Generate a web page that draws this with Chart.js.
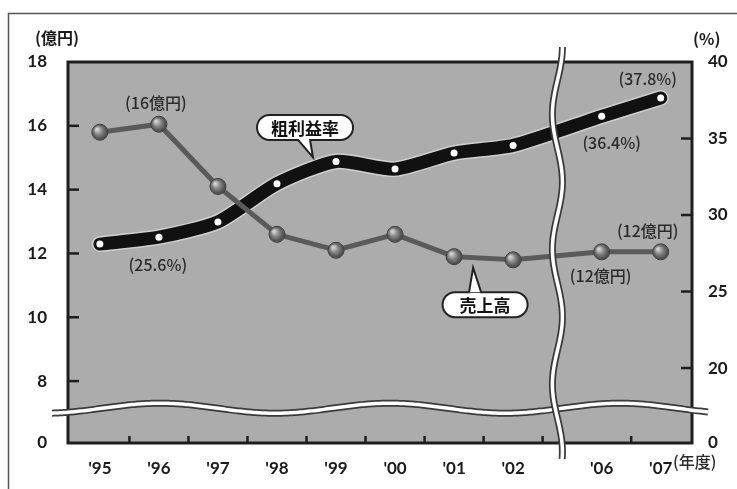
<!DOCTYPE html>
<html lang="ja">
<head>
<meta charset="utf-8">
<script src="https://cdn.jsdelivr.net/npm/chart.js@4"></script>
<style>
  html, body { margin: 0; padding: 0; background: #fff; }
  canvas { display: block; }
</style>
</head>
<body>
<canvas id="chart" width="737" height="489"></canvas>
<script>
// fiscal years on the x axis ('03 - '05 are cut out by the break)
const years = [1995, 1996, 1997, 1998, 1999, 2000, 2001, 2002, 2006, 2007]
const yearLabels = ["'95", "'96", "'97", "'98", "'99", "'00", "'01", "'02", "'06", "'07"]
// 売上高 (億円) - left axis
const sales = [15.8, 16.05, 14.1, 12.6, 12.1, 12.6, 11.9, 11.8, 12.05, 12.05]
// 粗利益率 (%) - right axis
const marginRate = [28.1, 28.55, 29.55, 32.05, 33.5, 33.0, 34.05, 34.55, 36.45, 37.65]
const leftTicks = [0, 8, 10, 12, 14, 16, 18]
const rightTicks = [0, 20, 25, 30, 35, 40]
// value notes written next to some points
const salesNotes = ['', '(16億円)', '', '', '', '', '', '', '(12億円)', '(12億円)']
const marginNotes = ['(25.6%)', '', '', '', '', '', '', '', '(36.4%)', '(37.8%)']

// broken axes: the bottom of each y axis stands for 0
const leftZero = 6.06
const rightZero = 15.1
const gapYears = 2.5
const xOf = y => y > 2002 ? y - 1995 - gapYears : y - 1995

// where the notes sit, in px from their point
const noteOffsets = {
  sales: { 1: [-3, -21], 8: [-1, 24], 9: [-13, -21] },
  margin: { 0: [58, 21], 8: [10, 27], 9: [-13, -19] }
}

const tickFont = { family: 'Lato, "Noto Sans CJK JP", sans-serif', size: 17, weight: 'bold' }

const line = (ctx, x1, y1, x2, y2) => {
  ctx.beginPath()
  ctx.moveTo(x1, y1)
  ctx.lineTo(x2, y2)
  ctx.stroke()
}

const wave = (ctx, pts) => {
  ctx.beginPath()
  pts.forEach((p, i) => i ? ctx.lineTo(p[0], p[1]) : ctx.moveTo(p[0], p[1]))
  ctx.lineCap = 'butt'
  ctx.strokeStyle = '#3a3a3a'
  ctx.lineWidth = 7
  ctx.stroke()
  ctx.strokeStyle = '#fff'
  ctx.lineWidth = 3.5
  ctx.stroke()
}

const callout = (ctx, text, cx, cy, w, h, tipX, tipY, up) => {
  const edge = up ? cy - h / 2 : cy + h / 2
  const baseX = up ? tipX + 1 : tipX - 10
  ctx.fillStyle = '#fff'
  ctx.strokeStyle = '#222'
  ctx.lineWidth = 2
  ctx.beginPath()
  ctx.roundRect(cx - w / 2, cy - h / 2, w, h, h / 2)
  ctx.fill()
  ctx.stroke()
  // tail
  ctx.beginPath()
  ctx.moveTo(baseX - 5, edge)
  ctx.lineTo(tipX, tipY)
  ctx.lineTo(baseX + 7, edge)
  ctx.fill()
  ctx.stroke()
  ctx.fillRect(baseX - 4, edge - (up ? -1 : 2), 10, 2)
  ctx.fillStyle = '#111'
  ctx.font = 'bold 17px "Noto Sans CJK JP", sans-serif'
  ctx.textAlign = 'center'
  ctx.textBaseline = 'middle'
  ctx.fillText(text, cx, cy + 1)
}

const decor = {
  id: 'decor',
  beforeDraw(chart) {
    const { ctx } = chart
    ctx.save()
    ctx.fillStyle = '#fff'
    ctx.fillRect(0, 0, chart.width, chart.height)
    ctx.strokeStyle = '#555'
    ctx.lineWidth = 1.5
    ctx.strokeRect(8.5, 13.5, chart.width + 20, chart.height + 20)
    // unit captions
    ctx.fillStyle = '#1a1a1a'
    ctx.font = 'bold 16px "Noto Sans CJK JP", sans-serif'
    ctx.textBaseline = 'middle'
    ctx.textAlign = 'left'
    ctx.fillText('(億円)', 35, 38)
    ctx.fillText('(%)', 693, 39)
    ctx.restore()
  },
  beforeDatasetsDraw(chart) {
    const { ctx, chartArea: a, scales } = chart
    ctx.save()
    ctx.fillStyle = '#acacac'
    ctx.fillRect(a.left, a.top, a.right - a.left, a.bottom - a.top)
    ctx.strokeStyle = '#1e1e1e'
    ctx.lineWidth = 3
    ctx.strokeRect(a.left, a.top, a.right - a.left, a.bottom - a.top)
    ctx.lineWidth = 2.5
    leftTicks.slice(1, -1).forEach(v => {
      const y = scales.y.getPixelForValue(v)
      line(ctx, a.left, y, a.left + 11, y)
    })
    rightTicks.slice(1, -1).forEach(v => {
      const y = scales.y1.getPixelForValue(v)
      line(ctx, a.right - 11, y, a.right, y)
    })
    years.slice(0, -1).forEach(y => {
      const x = scales.x.getPixelForValue(xOf(y) + 0.5)
      line(ctx, x, a.bottom, x, a.bottom - 7)
    })
    ctx.restore()
  },
  beforeDatasetDraw(chart, args) {
    // light rim round the thick margin line
    if (args.index !== 1) return
    const { ctx } = chart
    ctx.save()
    ctx.beginPath()
    args.meta.dataset.path(ctx)
    ctx.strokeStyle = '#d0d0d0'
    ctx.lineWidth = 16
    ctx.lineJoin = 'round'
    ctx.lineCap = 'round'
    ctx.stroke()
    ctx.restore()
  },
  afterDatasetsDraw(chart) {
    const { ctx, chartArea: a, scales } = chart
    const salesPts = chart.getDatasetMeta(0).data
    const marginPts = chart.getDatasetMeta(1).data
    ctx.save()
    // shaded balls on the sales line
    salesPts.forEach(p => {
      const g = ctx.createRadialGradient(p.x - 3, p.y - 3, 1, p.x, p.y, 8.5)
      g.addColorStop(0, '#d0d0d0')
      g.addColorStop(0.45, '#808080')
      g.addColorStop(1, '#3a3a3a')
      ctx.fillStyle = g
      ctx.beginPath()
      ctx.arc(p.x, p.y, 7.5, 0, Math.PI * 2)
      ctx.fill()
    })

    // break marks
    const yc = scales.y.getPixelForValue(7.15)
    const hpts = []
    for (let x = a.left - 16; x <= a.right + 16; x += 2) {
      hpts.push([x, yc - 5 * Math.cos(2 * Math.PI * (x - 160) / 230)])
    }
    wave(ctx, hpts)
    const xc = scales.x.getPixelForValue(xOf(2002) + 0.75)
    const vpts = []
    for (let y = a.top - 15; y <= a.bottom + 17; y += 2) {
      vpts.push([xc + 5 * Math.sin(2 * Math.PI * (y - 13) / 135), y])
    }
    wave(ctx, vpts)

    // notes
    ctx.fillStyle = '#2a2a2a'
    ctx.font = '500 16px "Noto Sans CJK JP", sans-serif'
    ctx.textAlign = 'center'
    ctx.textBaseline = 'middle'
    salesNotes.forEach((t, i) => {
      if (!t) return
      const [dx, dy] = noteOffsets.sales[i]
      ctx.fillText(t, salesPts[i].x + dx, salesPts[i].y + dy)
    })
    marginNotes.forEach((t, i) => {
      if (!t) return
      const [dx, dy] = noteOffsets.margin[i]
      ctx.fillText(t, marginPts[i].x + dx, marginPts[i].y + dy)
    })
    // year caption
    ctx.textAlign = 'left'
    ctx.fillText('(年度)', a.right - 19, a.bottom + 19)

    // series callouts
    const m = marginPts[4]
    callout(ctx, '粗利益率', m.x - 31, m.y - 34, 96, 25, m.x - 23, m.y - 4, false)
    const s = salesPts[6]
    callout(ctx, '売上高', s.x + 31, s.y + 48, 85, 25, s.x + 19, s.y + 11, true)
    ctx.restore()
  }
}

new Chart(document.getElementById('chart'), {
  type: 'line',
  data: {
    datasets: [{
      label: '売上高',
      data: years.map((y, i) => ({ x: xOf(y), y: sales[i] })),
      yAxisID: 'y',
      borderColor: '#5a5a5a',
      borderWidth: 5,
      tension: 0,
      pointRadius: 8,
      pointBackgroundColor: '#777',
      pointBorderColor: '#3a3a3a',
      pointBorderWidth: 1
    }, {
      label: '粗利益率',
      data: years.map((y, i) => ({ x: xOf(y), y: marginRate[i] })),
      yAxisID: 'y1',
      borderColor: '#111',
      borderWidth: 13,
      borderJoinStyle: 'round',
      borderCapStyle: 'round',
      tension: 0.22,
      pointRadius: 3.5,
      pointBackgroundColor: '#fff',
      pointBorderColor: '#fff',
      pointBorderWidth: 0
    }]
  },
  options: {
    responsive: false,
    animation: false,
    devicePixelRatio: 1,
    layout: { padding: { top: 62, left: 0, right: 0, bottom: 0 } },
    plugins: { legend: { display: false }, tooltip: { enabled: false } },
    scales: {
      x: {
        type: 'linear',
        min: -0.54,
        max: 10.03,
        grid: { display: false },
        border: { display: false },
        afterFit: s => { s.height = 46 },
        afterBuildTicks: s => { s.ticks = years.map(y => ({ value: xOf(y) })) },
        ticks: {
          autoSkip: false,
          maxRotation: 0,
          padding: 7,
          color: '#1a1a1a',
          font: tickFont,
          callback: (v, i) => yearLabels[i]
        }
      },
      y: {
        position: 'left',
        min: leftZero,
        max: 18,
        grid: { display: false },
        border: { display: false },
        afterFit: s => { s.width = 68 },
        afterBuildTicks: s => { s.ticks = leftTicks.map(v => ({ value: v === 0 ? leftZero : v })) },
        ticks: {
          autoSkip: false,
          padding: 13,
          color: '#1a1a1a',
          font: tickFont,
          callback: (v, i) => leftTicks[i]
        }
      },
      y1: {
        position: 'right',
        min: rightZero,
        max: 40,
        grid: { display: false },
        border: { display: false },
        afterFit: s => { s.width = 45 },
        afterBuildTicks: s => { s.ticks = rightTicks.map(v => ({ value: v === 0 ? rightZero : v })) },
        ticks: {
          autoSkip: false,
          padding: 8,
          color: '#1a1a1a',
          font: tickFont,
          callback: (v, i) => rightTicks[i]
        }
      }
    }
  },
  plugins: [decor]
})
</script>
</body>
</html>
